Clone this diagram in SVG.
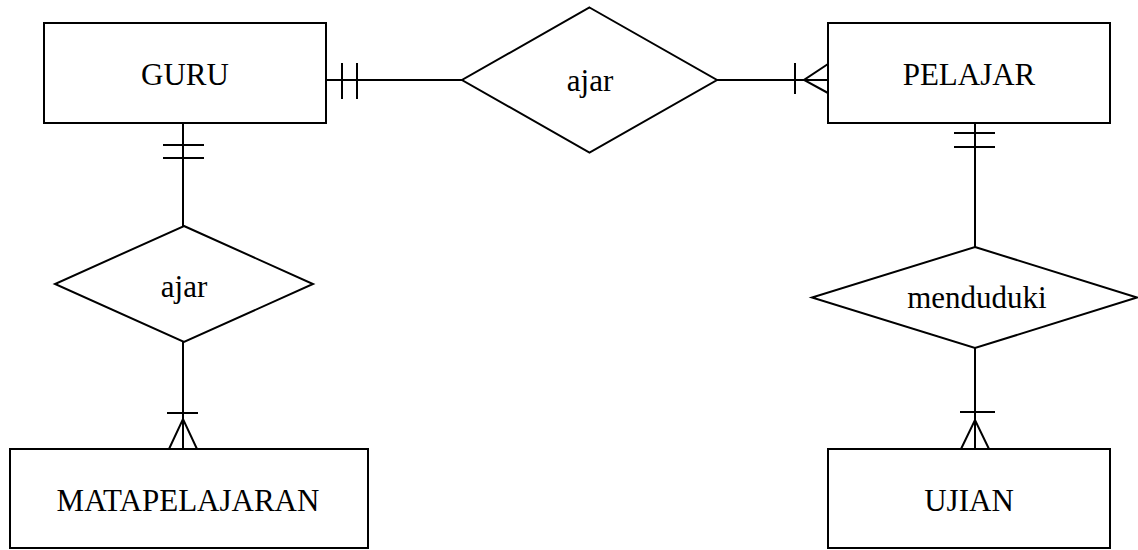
<svg xmlns="http://www.w3.org/2000/svg" width="1138" height="550" viewBox="0 0 1138 550">
<style>
.shape{fill:#fff;stroke:#000;stroke-width:2}
.ln{fill:none;stroke:#000;stroke-width:2}
.t{font-family:"Liberation Serif","Times New Roman",serif;font-size:31px;fill:#000;text-anchor:middle}
</style>
<rect width="1138" height="550" fill="#fff"/>
<g id="connectors">
<path class="ln" d="M326 80H462M342 63V99M357 63V99"/>
<path class="ln" d="M717 80H828M795 63V94M828 64L804 80L828 93"/>
<path class="ln" d="M183 123V226M163 145H204M163 158H204"/>
<path class="ln" d="M183 342V449M167 413H198M169 449L183 419L197 449"/>
<path class="ln" d="M975 123V247M954 133H995M954 147H995"/>
<path class="ln" d="M975 348V449M960 412H995M961 449L975 420L989 449"/>
</g>
<g id="guru"><rect class="shape" x="44" y="23" width="282" height="100"/><text class="t" x="185" y="85">GURU</text></g>
<g id="pelajar"><rect class="shape" x="828" y="23" width="282" height="100"/><text class="t" x="969" y="85">PELAJAR</text></g>
<g id="ajar-top"><polygon class="shape" points="589.5,7.5 717,80 589.5,152.5 462,80"/><text class="t" x="590" y="91">ajar</text></g>
<g id="ajar-left"><polygon class="shape" points="184,226 313,284 184,342 55,284"/><text class="t" x="184" y="297">ajar</text></g>
<g id="menduduki"><polygon class="shape" points="975,247 1137,297.5 975,348 812,297.5"/><text class="t" x="977" y="308">menduduki</text></g>
<g id="matapelajaran"><rect class="shape" x="10" y="449" width="358" height="99"/><text class="t" x="188" y="511">MATAPELAJARAN</text></g>
<g id="ujian"><rect class="shape" x="828" y="449" width="282" height="99"/><text class="t" x="969" y="511">UJIAN</text></g>
</svg>
